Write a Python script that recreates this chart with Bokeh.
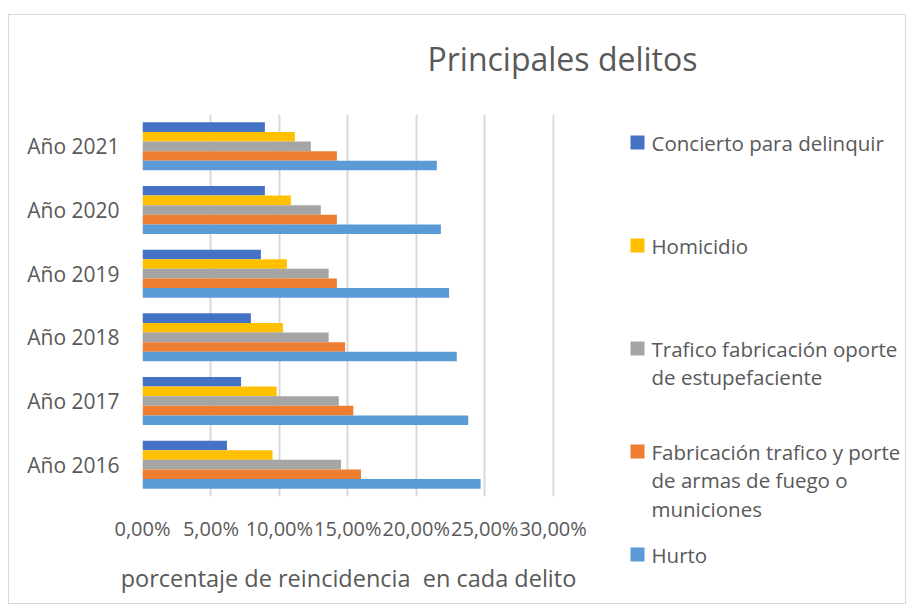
import textwrap
from bokeh.plotting import figure
from bokeh.models import FactorRange, Range1d, FixedTicker, CustomJSTickFormatter, ColumnDataSource
from bokeh.core.properties import value
from bokeh.transform import dodge
from bokeh.embed import file_html
from bokeh.resources import INLINE

# ---- data ----
years = ["Año 2016", "Año 2017", "Año 2018", "Año 2019", "Año 2020", "Año 2021"]
series_names = [
    "Concierto para delinquir",
    "Homicidio",
    "Trafico fabricación oporte de estupefaciente",
    "Fabricación trafico y porte de armas de fuego o municiones",
    "Hurto",
]
concierto = [0.0617, 0.0720, 0.0792, 0.0865, 0.0894, 0.0894]
homicidio = [0.0950, 0.0980, 0.1026, 0.1055, 0.1084, 0.1113]
trafico = [0.1450, 0.1434, 0.1360, 0.1360, 0.1303, 0.1230]
fabricacion = [0.1596, 0.1540, 0.1480, 0.1420, 0.1420, 0.1420]
hurto = [0.2470, 0.2380, 0.2296, 0.2240, 0.2180, 0.2150]
x_ticks = [0.0, 0.05, 0.10, 0.15, 0.20, 0.25, 0.30]

title_text = "Principales delitos"
x_title = "porcentaje de reincidencia\u00a0 en cada delito"

colors = ["#4472C4", "#FFC000", "#A5A5A5", "#ED7D31", "#5B9BD5"]
series_values = [concierto, homicidio, trafico, fabricacion, hurto]
keys = ["s0", "s1", "s2", "s3", "s4"]

TEXT = "#595959"
FONT = "Open Sans"

# ---- chart layout (pixels) ----
W, H = 898, 590            # canvas size of both layers
OX, OY = 9, 15             # page position of the canvas
ML, MR, MT, MB = 133, 353, 99, 109

src = ColumnDataSource(dict(year=years, **{k: v for k, v in zip(keys, series_values)}))

p = figure(width=W, height=H, y_range=FactorRange(*years, range_padding=0),
           x_range=Range1d(0, 0.301), output_backend="svg", toolbar_location=None,
           min_border_left=ML, min_border_right=MR, min_border_top=MT, min_border_bottom=MB)
p.outline_line_color = None
p.background_fill_color = "white"
p.border_fill_color = "white"
p.styles = {"position": "absolute", "left": f"{OX-1}px", "top": f"{OY-1}px",
            "border": "1px solid #d9d9d9"}

bar_h = 0.151
offsets = [2 * bar_h, bar_h, 0.0, -bar_h, -2 * bar_h]
for k, c, off in zip(keys, colors, offsets):
    p.hbar(y=dodge("year", off, range=p.y_range), right=k, left=0, height=bar_h,
           source=src, color=c, line_color=None)

# x axis
p.xaxis.ticker = FixedTicker(ticks=x_ticks)
p.xaxis.formatter = CustomJSTickFormatter(code="return (tick*100).toFixed(2).replace('.', ',') + '%';")
p.xaxis.axis_line_color = None
p.xaxis.major_tick_line_color = None
p.xaxis.minor_tick_line_color = None
p.xaxis.major_label_text_font = FONT
p.xaxis.major_label_text_font_size = "20px"
p.xaxis.major_label_text_color = TEXT
p.xaxis.major_label_standoff = 12
p.xaxis.axis_label = x_title
p.xaxis.axis_label_text_font = FONT
p.xaxis.axis_label_text_font_size = "23.5px"
p.xaxis.axis_label_text_font_style = "normal"
p.xaxis.axis_label_text_color = TEXT
p.xaxis.axis_label_standoff = 17

p.xgrid.grid_line_color = "#d9d9d9"
p.xgrid.grid_line_width = 2
p.ygrid.grid_line_color = None

# y axis
p.yaxis.axis_line_color = None
p.yaxis.major_tick_line_color = None
p.yaxis.minor_tick_line_color = None
p.yaxis.major_label_text_font = FONT
p.yaxis.major_label_text_font_size = "21px"
p.yaxis.major_label_text_color = TEXT
p.yaxis.major_label_standoff = 17

# ---- overlay layer: title + legend (coordinates = page pixels) ----
q = figure(width=W, height=H, x_range=Range1d(OX, OX + W), y_range=Range1d(OY + H, OY),
           x_axis_location=None, y_axis_location=None, output_backend="svg",
           toolbar_location=None, min_border=0)
q.outline_line_color = None
q.background_fill_alpha = 0
q.border_fill_alpha = 0
q.grid.grid_line_color = None
q.styles = {"position": "absolute", "left": f"{OX}px", "top": f"{OY}px"}

q.text(x=[562], y=[58], text=[title_text], text_font=value(FONT), text_font_size="32px",
       text_color=TEXT, text_align="center", text_baseline="middle")

LEG_X, LEG_Y0, LEG_STEP, LINE_H, SQ = 637, 142, 103, 28.5, 14
sq_x, sq_y, lx, ly, lt = [], [], [], [], []
for i, name in enumerate(series_names):
    yc = LEG_Y0 + LEG_STEP * i
    sq_x.append(LEG_X)
    sq_y.append(yc)
    for j, line in enumerate(textwrap.wrap(name, 27)):
        lx.append(LEG_X + 14)
        ly.append(yc + LINE_H * j)
        lt.append(line)
q.rect(x=sq_x, y=sq_y, width=SQ, height=SQ, fill_color=colors, line_color=None)
q.text(x=lx, y=ly, text=lt, text_font=value(FONT), text_font_size="20.5px",
       text_color=TEXT, text_align="left", text_baseline="middle")

open("out.html", "w").write(file_html([p, q], INLINE))
